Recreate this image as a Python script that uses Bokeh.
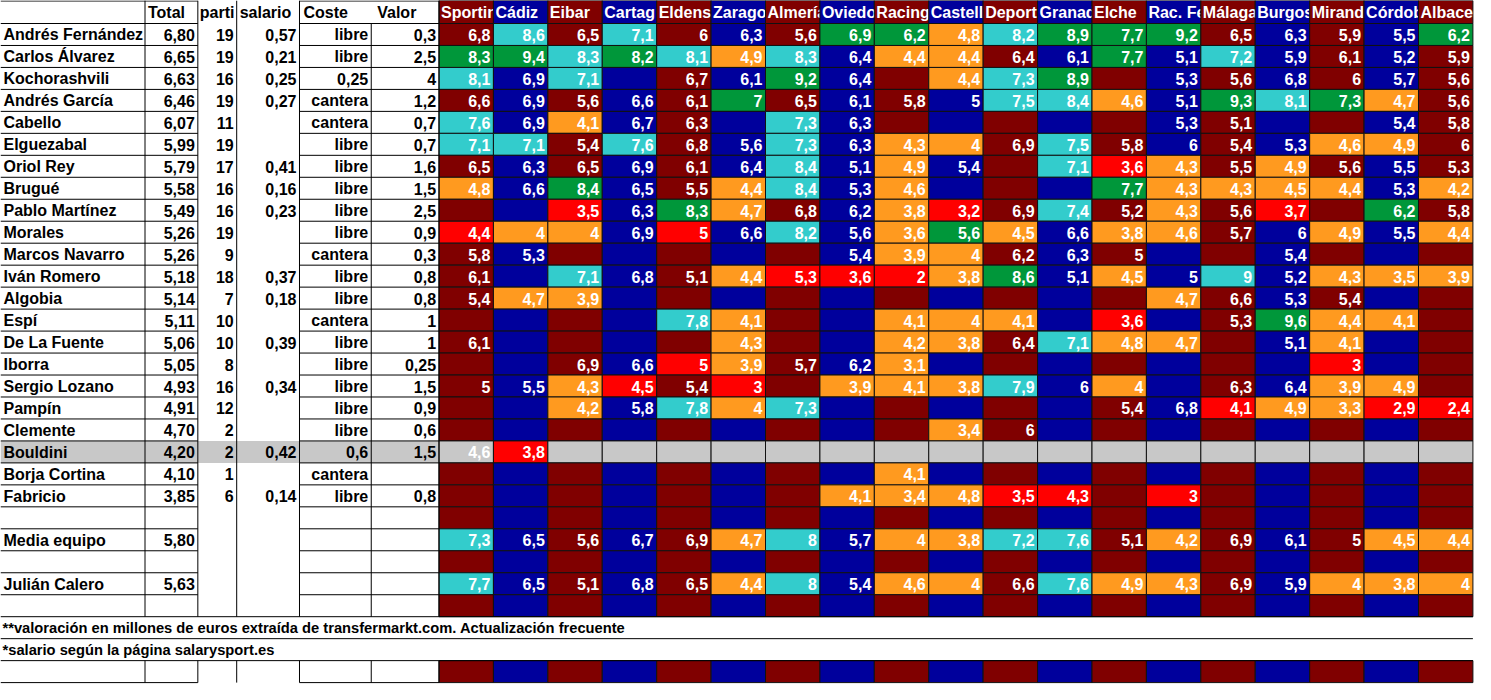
from bokeh.plotting import figure
from bokeh.models import Range1d, ColumnDataSource
from bokeh.core.properties import value
from bokeh.embed import file_html
from bokeh.resources import INLINE

N = None

# ---------------- data ----------------
# team headers as they appear (cut) in the spreadsheet cells
TEAMS = ["Sportin", "Cádiz", "Eibar", "Cartag", "Eldens", "Zarago", "Almería",
         "Oviedo", "Racing", "Castell", "Deport", "Granad", "Elche", "Rac. Fe",
         "Málaga", "Burgos", "Mirand", "Córdob", "Albace"]

LEFT_HEADERS = ["Total", "parti", "salario", "Coste", "Valor"]

PLAYERS = ["Andrés Fernández", "Carlos Álvarez", "Kochorashvili", "Andrés García", "Cabello",
           "Elguezabal", "Oriol Rey", "Brugué", "Pablo Martínez", "Morales", "Marcos Navarro",
           "Iván Romero", "Algobia", "Espí", "De La Fuente", "Iborra", "Sergio Lozano", "Pampín",
           "Clemente", "Bouldini", "Borja Cortina", "Fabricio"]
TOTAL = [6.80, 6.65, 6.63, 6.46, 6.07, 5.99, 5.79, 5.58, 5.49, 5.26, 5.26, 5.18, 5.14, 5.11,
         5.06, 5.05, 4.93, 4.91, 4.70, 4.20, 4.10, 3.85]
PARTI = [19, 19, 16, 19, 11, 19, 17, 16, 16, 19, 9, 18, 7, 10, 10, 8, 16, 12, 2, 2, 1, 6]
SALARIO = [0.57, 0.21, 0.25, 0.27, N, N, 0.41, 0.16, 0.23, N, N, 0.37, 0.18, N, 0.39, N, 0.34,
           N, N, 0.42, N, 0.14]
COSTE = ["libre", "libre", "0,25", "cantera", "cantera", "libre", "libre", "libre", "libre",
         "libre", "cantera", "libre", "libre", "cantera", "libre", "libre", "libre", "libre",
         "libre", "0,6", "cantera", "libre"]
VALOR = [0.3, 2.5, 4, 1.2, 0.7, 0.7, 1.6, 1.5, 2.5, 0.9, 0.3, 0.8, 0.8, 1, 1, 0.25, 1.5, 0.9,
         0.6, 1.5, N, 0.8]

# match ratings per team (None = did not play)
RATINGS = [
    [6.8, 8.6, 6.5, 7.1, 6, 6.3, 5.6, 6.9, 6.2, 4.8, 8.2, 8.9, 7.7, 9.2, 6.5, 6.3, 5.9, 5.5, 6.2],
    [8.3, 9.4, 8.3, 8.2, 8.1, 4.9, 8.3, 6.4, 4.4, 4.4, 6.4, 6.1, 7.7, 5.1, 7.2, 5.9, 6.1, 5.2, 5.9],
    [8.1, 6.9, 7.1, N, 6.7, 6.1, 9.2, 6.4, N, 4.4, 7.3, 8.9, N, 5.3, 5.6, 6.8, 6, 5.7, 5.6],
    [6.6, 6.9, 5.6, 6.6, 6.1, 7, 6.5, 6.1, 5.8, 5, 7.5, 8.4, 4.6, 5.1, 9.3, 8.1, 7.3, 4.7, 5.6],
    [7.6, 6.9, 4.1, 6.7, 6.3, N, 7.3, 6.3, N, N, N, N, N, 5.3, 5.1, N, N, 5.4, 5.8],
    [7.1, 7.1, 5.4, 7.6, 6.8, 5.6, 7.3, 6.3, 4.3, 4, 6.9, 7.5, 5.8, 6, 5.4, 5.3, 4.6, 4.9, 6],
    [6.5, 6.3, 6.5, 6.9, 6.1, 6.4, 8.4, 5.1, 4.9, 5.4, N, 7.1, 3.6, 4.3, 5.5, 4.9, 5.6, 5.5, 5.3],
    [4.8, 6.6, 8.4, 6.5, 5.5, 4.4, 8.4, 5.3, 4.6, N, N, N, 7.7, 4.3, 4.3, 4.5, 4.4, 5.3, 4.2],
    [N, N, 3.5, 6.3, 8.3, 4.7, 6.8, 6.2, 3.8, 3.2, 6.9, 7.4, 5.2, 4.3, 5.6, 3.7, N, 6.2, 5.8],
    [4.4, 4, 4, 6.9, 5, 6.6, 8.2, 5.6, 3.6, 5.6, 4.5, 6.6, 3.8, 4.6, 5.7, 6, 4.9, 5.5, 4.4],
    [5.8, 5.3, N, N, N, N, N, 5.4, 3.9, 4, 6.2, 6.3, 5, N, N, 5.4, N, N, N],
    [6.1, N, 7.1, 6.8, 5.1, 4.4, 5.3, 3.6, 2, 3.8, 8.6, 5.1, 4.5, 5, 9, 5.2, 4.3, 3.5, 3.9],
    [5.4, 4.7, 3.9, N, N, N, N, N, N, N, N, N, N, 4.7, 6.6, 5.3, 5.4, N, N],
    [N, N, N, N, 7.8, 4.1, N, N, 4.1, 4, 4.1, N, 3.6, N, 5.3, 9.6, 4.4, 4.1, N],
    [6.1, N, N, N, N, 4.3, N, N, 4.2, 3.8, 6.4, 7.1, 4.8, 4.7, N, 5.1, 4.1, N, N],
    [N, N, 6.9, 6.6, 5, 3.9, 5.7, 6.2, 3.1, N, N, N, N, N, N, N, 3, N, N],
    [5, 5.5, 4.3, 4.5, 5.4, 3, N, 3.9, 4.1, 3.8, 7.9, 6, 4, N, 6.3, 6.4, 3.9, 4.9, N],
    [N, N, 4.2, 5.8, 7.8, 4, 7.3, N, N, N, N, N, 5.4, 6.8, 4.1, 4.9, 3.3, 2.9, 2.4],
    [N, N, N, N, N, N, N, N, N, 3.4, 6, N, N, N, N, N, N, N, N],
    [4.6, 3.8, N, N, N, N, N, N, N, N, N, N, N, N, N, N, N, N, N],
    [N, N, N, N, N, N, N, N, 4.1, N, N, N, N, N, N, N, N, N, N],
    [N, N, N, N, N, N, N, 4.1, 3.4, 4.8, 3.5, 4.3, N, 3, N, N, N, N, N],
]
# grade class of each rating: '.' normal, R bad, O poor, C good, G excellent
GRADES = [
    ".C.C...GGOCGGG....G",
    "GGCGCOC.OO..G.C....",
    "C.C...G..OCG.......",
    ".....G....CCO.GCGO.",
    "C.O...C............",
    "CC.C..C.OO.C....OO.",
    "......C.O..CRO.O...",
    "O.G..OC.O...GOOOO.O",
    "..R.GO..OR.C.O.R.G.",
    "ROO.R.C.OGO.OO..O.O",
    "........OO.........",
    "..C..ORRROG.O.C.OOO",
    ".OO..........O.....",
    "....CO..OOO.R..GOO.",
    ".....O..OO.COO..O..",
    "....RO..O.......R..",
    "..OR.R.OOOC.O...OO.",
    "..O.COC.......ROORR",
    ".........O.........",
    ".R.................",
    "........O..........",
    ".......OOORR.R.....",
]
HIGHLIGHT = "Bouldini"

MEDIA_LABEL, MEDIA_TOTAL = "Media equipo", 5.80
MEDIA = [7.3, 6.5, 5.6, 6.7, 6.9, 4.7, 8, 5.7, 4, 3.8, 7.2, 7.6, 5.1, 4.2, 6.9, 6.1, 5, 4.5, 4.4]
MEDIA_GRADES = "C....OC.OOCC.O...OO"
CALERO_LABEL, CALERO_TOTAL = "Julián Calero", 5.63
CALERO = [7.7, 6.5, 5.1, 6.8, 6.5, 4.4, 8, 5.4, 4.6, 4, 6.6, 7.6, 4.9, 4.3, 6.9, 5.9, 4, 3.8, 4]
CALERO_GRADES = "C....OC.OO.COO..OOO"

NOTE_VALOR = "**valoración en millones de euros extraída de transfermarkt.com. Actualización frecuente"
NOTE_SALARIO = "*salario según la página salarysport.es"

# ---------------- style / layout ----------------
W, H = 1475, 684
XMAX, YMAX = 1480, 684
HEADER_H = 23.0
ROW_H = 21.97
LEFT_EDGES = [0, 145, 198, 237, 300, 372, 440]
TEAM_X0 = 440.0
TEAM_W = 54.6
FONT = value("Liberation Sans")
FS = "16px"
FS_NOTE = "14.7px"
COL_BG = ["#800000", "#00009C"]
GRADE_COLORS = {"R": "#FF0000", "O": "#FF9A1F", "C": "#33CCCC", "G": "#00973A"}
GREY = "#C8C8C8"


def fmt(v, nd=None):
    if v is None:
        return ""
    s = f"{v:.{nd}f}" if nd is not None else f"{v:g}"
    return s.replace(".", ",")


# build row list
rows = []
for i, name in enumerate(PLAYERS):
    rows.append(dict(kind="player", name=name, total=fmt(TOTAL[i], 2), parti=str(PARTI[i]),
                     salario=fmt(SALARIO[i], 2), coste=COSTE[i], valor=fmt(VALOR[i]),
                     ratings=RATINGS[i], grades=GRADES[i], hl=(name == HIGHLIGHT)))
rows.append(dict(kind="blank"))
rows.append(dict(kind="summary", name=MEDIA_LABEL, total=fmt(MEDIA_TOTAL, 2), ratings=MEDIA,
                 grades=MEDIA_GRADES))
rows.append(dict(kind="blank"))
rows.append(dict(kind="summary", name=CALERO_LABEL, total=fmt(CALERO_TOTAL, 2), ratings=CALERO,
                 grades=CALERO_GRADES))
rows.append(dict(kind="blank"))
rows.append(dict(kind="note", text=NOTE_VALOR))
rows.append(dict(kind="note", text=NOTE_SALARIO))
rows.append(dict(kind="blank"))

nT = len(TEAMS)
team_left = [TEAM_X0 + j * TEAM_W for j in range(nT)]
TEAM_END = TEAM_X0 + nT * TEAM_W


def row_top(k):
    return HEADER_H + ROW_H * k


p = figure(width=W, height=H, x_range=Range1d(0, XMAX), y_range=Range1d(YMAX, 0),
           output_backend="svg", toolbar_location=None, min_border=0)
p.axis.visible = False
p.grid.visible = False
p.outline_line_color = None
p.background_fill_color = "white"
p.border_fill_color = "white"

# highlighted row in the left table
hl_quads = dict(left=[], right=[], top=[], bottom=[])
for k, r in enumerate(rows):
    if r.get("hl"):
        hl_quads["left"].append(0); hl_quads["right"].append(TEAM_X0)
        hl_quads["top"].append(row_top(k)); hl_quads["bottom"].append(row_top(k) + ROW_H)
p.quad(source=ColumnDataSource(hl_quads), left="left", right="right", top="top",
       bottom="bottom", fill_color=GREY, line_color=None)

# body team cells
cells = dict(left=[], right=[], top=[], bottom=[], fill=[])
vals = dict(x=[], y=[], text=[])
for k, r in enumerate(rows):
    if r["kind"] == "note":
        continue
    t = row_top(k)
    for j in range(nT):
        fill = COL_BG[j % 2]
        txt = ""
        if r["kind"] in ("player", "summary"):
            g = r["grades"][j]
            if r.get("hl"):
                fill = GREY
            if g in GRADE_COLORS:
                fill = GRADE_COLORS[g]
            txt = fmt(r["ratings"][j])
        cells["left"].append(team_left[j]); cells["right"].append(team_left[j] + TEAM_W)
        cells["top"].append(t); cells["bottom"].append(t + ROW_H); cells["fill"].append(fill)
        if txt:
            vals["x"].append(team_left[j] + TEAM_W - 3)
            vals["y"].append(t + ROW_H / 2 + 0.5)
            vals["text"].append(txt)
p.quad(source=ColumnDataSource(cells), left="left", right="right", top="top", bottom="bottom",
       fill_color="fill", line_color="#111111", line_width=1)

# header team cells (each drawn after the previous label -> clips overflow)
for j, team in enumerate(TEAMS):
    p.quad(left=[team_left[j]], right=[team_left[j] + TEAM_W], top=[0], bottom=[HEADER_H],
           fill_color=COL_BG[j % 2], line_color="#111111", line_width=1)
    p.text(x=[team_left[j] + 2], y=[HEADER_H / 2 + 0.5], text=[team], text_align="left",
           text_baseline="middle", text_font=FONT, text_font_style="bold", text_font_size=FS,
           text_color="white")

# team values
p.text(source=ColumnDataSource(vals), x="x", y="y", text="text", text_align="right",
       text_baseline="middle", text_font=FONT, text_font_style="bold", text_font_size=FS,
       text_color="white")

# left table grid lines
seg = dict(x0=[], y0=[], x1=[], y1=[])


def add(x0, y0, x1, y1):
    seg["x0"].append(x0); seg["y0"].append(y0); seg["x1"].append(x1); seg["y1"].append(y1)


note_rows = [k for k, r in enumerate(rows) if r["kind"] == "note"]
note_top = row_top(note_rows[0])
note_bot = row_top(note_rows[-1]) + ROW_H
bottom = row_top(len(rows))
for k in range(len(rows) + 1):
    yb = row_top(k)
    if note_top - 0.01 <= yb <= note_bot + 0.01:
        add(0, yb, TEAM_END, yb)
        continue
    add(0, yb, LEFT_EDGES[2], yb)
    add(LEFT_EDGES[4], yb, LEFT_EDGES[6], yb)
add(0, 0.5, LEFT_EDGES[2], 0.5)
add(LEFT_EDGES[4], 0.5, LEFT_EDGES[6], 0.5)
for i, xe in enumerate(LEFT_EDGES[1:], start=1):
    top_y = HEADER_H if i == 5 else 0
    add(xe, top_y, xe, note_top)
    add(xe, note_bot, xe, bottom)
p.segment(source=ColumnDataSource(seg), x0="x0", y0="y0", x1="x1", y1="y1",
          line_color="black", line_width=1)

# left table texts
lt_left = dict(x=[], y=[], text=[])
lt_right = dict(x=[], y=[], text=[])
notes = dict(x=[], y=[], text=[])
header_x = [148, 200, 240, 304, 378]
for h, hx in zip(LEFT_HEADERS, header_x):
    lt_left["x"].append(hx); lt_left["y"].append(HEADER_H / 2 + 0.5); lt_left["text"].append(h)
right_x = [LEFT_EDGES[c] - 3 for c in range(2, 7)]
for k, r in enumerate(rows):
    yc = row_top(k) + ROW_H / 2 + 0.5
    if r["kind"] == "note":
        notes["x"].append(2); notes["y"].append(yc); notes["text"].append(r["text"])
        continue
    if r["kind"] == "blank":
        continue
    lt_left["x"].append(3); lt_left["y"].append(yc); lt_left["text"].append(r["name"])
    if r["kind"] == "player":
        cols = [r["total"], r["parti"], r["salario"], r["coste"], r["valor"]]
    else:
        cols = [r["total"], "", "", "", ""]
    for xr, c in zip(right_x, cols):
        if c:
            lt_right["x"].append(xr); lt_right["y"].append(yc); lt_right["text"].append(c)

p.text(source=ColumnDataSource(lt_left), x="x", y="y", text="text", text_align="left",
       text_baseline="middle", text_font=FONT, text_font_style="bold", text_font_size=FS,
       text_color="black")
p.text(source=ColumnDataSource(lt_right), x="x", y="y", text="text", text_align="right",
       text_baseline="middle", text_font=FONT, text_font_style="bold", text_font_size=FS,
       text_color="black")
p.text(source=ColumnDataSource(notes), x="x", y="y", text="text", text_align="left",
       text_baseline="middle", text_font=FONT, text_font_style="bold", text_font_size=FS_NOTE,
       text_color="black")

open("out.html", "w").write(file_html(p, INLINE))
